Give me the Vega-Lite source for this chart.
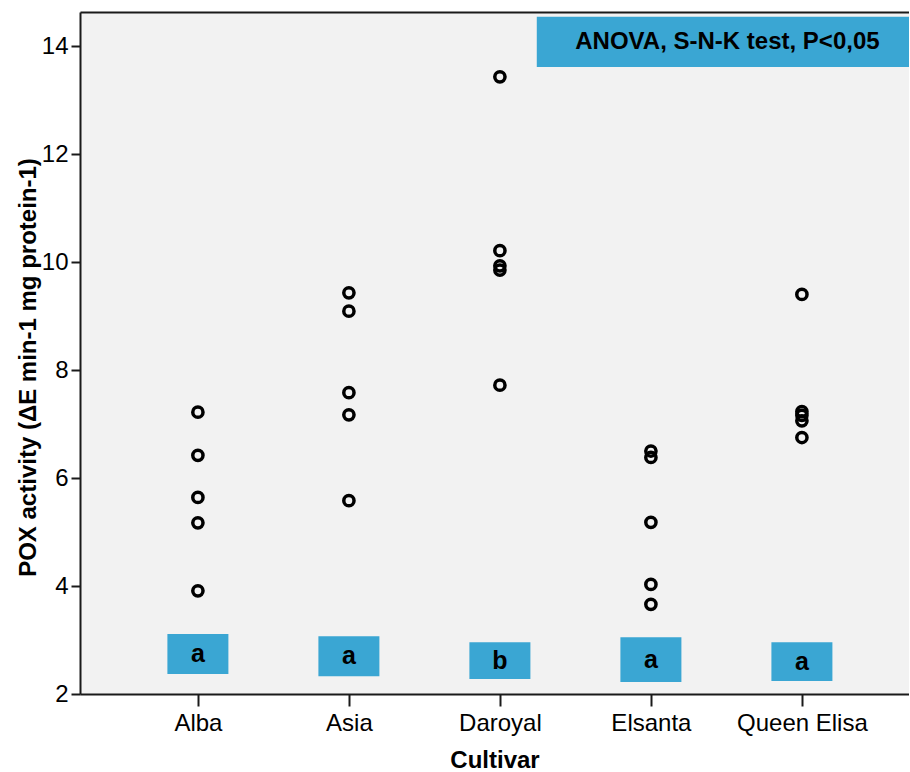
{
  "$schema": "https://vega.github.io/schema/vega-lite/v6.json",
  "width": 829,
  "height": 682,
  "padding": {"left": 16, "top": 12, "right": 0, "bottom": 0},
  "background": "white",
  "config": {
    "font": "Liberation Sans",
    "view": {"fill": "#f2f2f2", "stroke": null},
    "axis": {
      "labelFont": "Liberation Sans",
      "titleFont": "Liberation Sans",
      "labelFontSize": 24,
      "titleFontSize": 24,
      "titleFontWeight": "bold",
      "labelColor": "black",
      "titleColor": "black",
      "domainColor": "#1a1a1a",
      "domainWidth": 2,
      "tickColor": "#1a1a1a",
      "tickWidth": 2,
      "grid": false
    }
  },
  "datasets": {
    "pts": [
      {"cultivar": "Alba", "pox": 7.22},
      {"cultivar": "Alba", "pox": 6.42},
      {"cultivar": "Alba", "pox": 5.64},
      {"cultivar": "Alba", "pox": 5.17},
      {"cultivar": "Alba", "pox": 3.91},
      {"cultivar": "Asia", "pox": 9.43},
      {"cultivar": "Asia", "pox": 9.09},
      {"cultivar": "Asia", "pox": 7.58},
      {"cultivar": "Asia", "pox": 7.17},
      {"cultivar": "Asia", "pox": 5.58},
      {"cultivar": "Daroyal", "pox": 13.43},
      {"cultivar": "Daroyal", "pox": 10.21},
      {"cultivar": "Daroyal", "pox": 9.93},
      {"cultivar": "Daroyal", "pox": 9.85},
      {"cultivar": "Daroyal", "pox": 7.72},
      {"cultivar": "Elsanta", "pox": 6.5},
      {"cultivar": "Elsanta", "pox": 6.38},
      {"cultivar": "Elsanta", "pox": 5.18},
      {"cultivar": "Elsanta", "pox": 4.03},
      {"cultivar": "Elsanta", "pox": 3.66},
      {"cultivar": "Queen Elisa", "pox": 9.4},
      {"cultivar": "Queen Elisa", "pox": 7.23},
      {"cultivar": "Queen Elisa", "pox": 7.16},
      {"cultivar": "Queen Elisa", "pox": 7.06},
      {"cultivar": "Queen Elisa", "pox": 6.75}
    ],
    "letters": [
      {"cultivar": "Alba", "lo": 2.37, "hi": 3.11, "mid": 2.74, "letter": "a"},
      {"cultivar": "Asia", "lo": 2.33, "hi": 3.07, "mid": 2.70, "letter": "a"},
      {"cultivar": "Daroyal", "lo": 2.28, "hi": 2.96, "mid": 2.62, "letter": "b"},
      {"cultivar": "Elsanta", "lo": 2.22, "hi": 3.05, "mid": 2.63, "letter": "a"},
      {"cultivar": "Queen Elisa", "lo": 2.24, "hi": 2.96, "mid": 2.60, "letter": "a"}
    ],
    "note": [
      {"x0": 0.551, "x1": 1.0, "xm": 0.781, "y0": 13.61, "y1": 14.54, "ym": 14.07, "label": "ANOVA, S-N-K test, P<0,05"}
    ]
  },
  "encoding": {
    "y": {
      "type": "quantitative",
      "scale": {"domain": [2, 14.63], "nice": false, "zero": false},
      "axis": {
        "title": "POX activity (ΔE min-1 mg protein-1)",
        "values": [2, 4, 6, 8, 10, 12, 14],
        "tickSize": 9,
        "labelPadding": 3,
        "titlePadding": 1,
        "titleY": 355
      }
    }
  },
  "layer": [
    {
      "encoding": {
        "x": {
          "field": "cultivar", "type": "nominal",
          "scale": {"type": "point", "padding": 0.745, "align": 0.524},
          "sort": ["Alba", "Asia", "Daroyal", "Elsanta", "Queen Elisa"],
          "axis": {"title": "Cultivar", "labelAngle": 0, "tickSize": 12, "labelPadding": 5, "titlePadding": 13}
        }
      },
      "layer": [
        {
          "data": {"name": "letters"},
          "mark": {"type": "bar", "width": 61, "color": "#3aa6d3"},
          "encoding": {
            "y": {"field": "hi"},
            "y2": {"field": "lo"}
          }
        },
        {
          "data": {"name": "letters"},
          "mark": {"type": "text", "fontSize": 25, "fontWeight": "bold", "color": "black", "baseline": "middle"},
          "encoding": {
            "y": {"field": "mid"},
            "text": {"field": "letter"}
          }
        },
        {
          "data": {"name": "pts"},
          "mark": {"type": "point", "shape": "circle", "filled": false, "stroke": "black", "strokeWidth": 3.5, "size": 105, "opacity": 1},
          "encoding": {
            "y": {"field": "pox"}
          }
        }
      ]
    },
    {
      "data": {"name": "note"},
      "encoding": {
        "x": {
          "type": "quantitative",
          "scale": {"domain": [0, 1], "nice": false, "zero": false},
          "axis": {"orient": "top", "labels": false, "ticks": false, "title": null, "domain": true, "domainWidth": 2}
        }
      },
      "layer": [
        {
          "mark": {"type": "rect", "color": "#3aa6d3"},
          "encoding": {
            "x": {"field": "x0", "type": "quantitative"},
            "x2": {"field": "x1"},
            "y": {"field": "y1"},
            "y2": {"field": "y0"}
          }
        },
        {
          "mark": {"type": "text", "fontSize": 24, "fontWeight": "bold", "color": "black", "baseline": "middle", "align": "center"},
          "encoding": {
            "x": {"field": "xm", "type": "quantitative"},
            "y": {"field": "ym"},
            "text": {"field": "label"}
          }
        }
      ]
    }
  ],
  "resolve": {"scale": {"x": "independent"}}
}
